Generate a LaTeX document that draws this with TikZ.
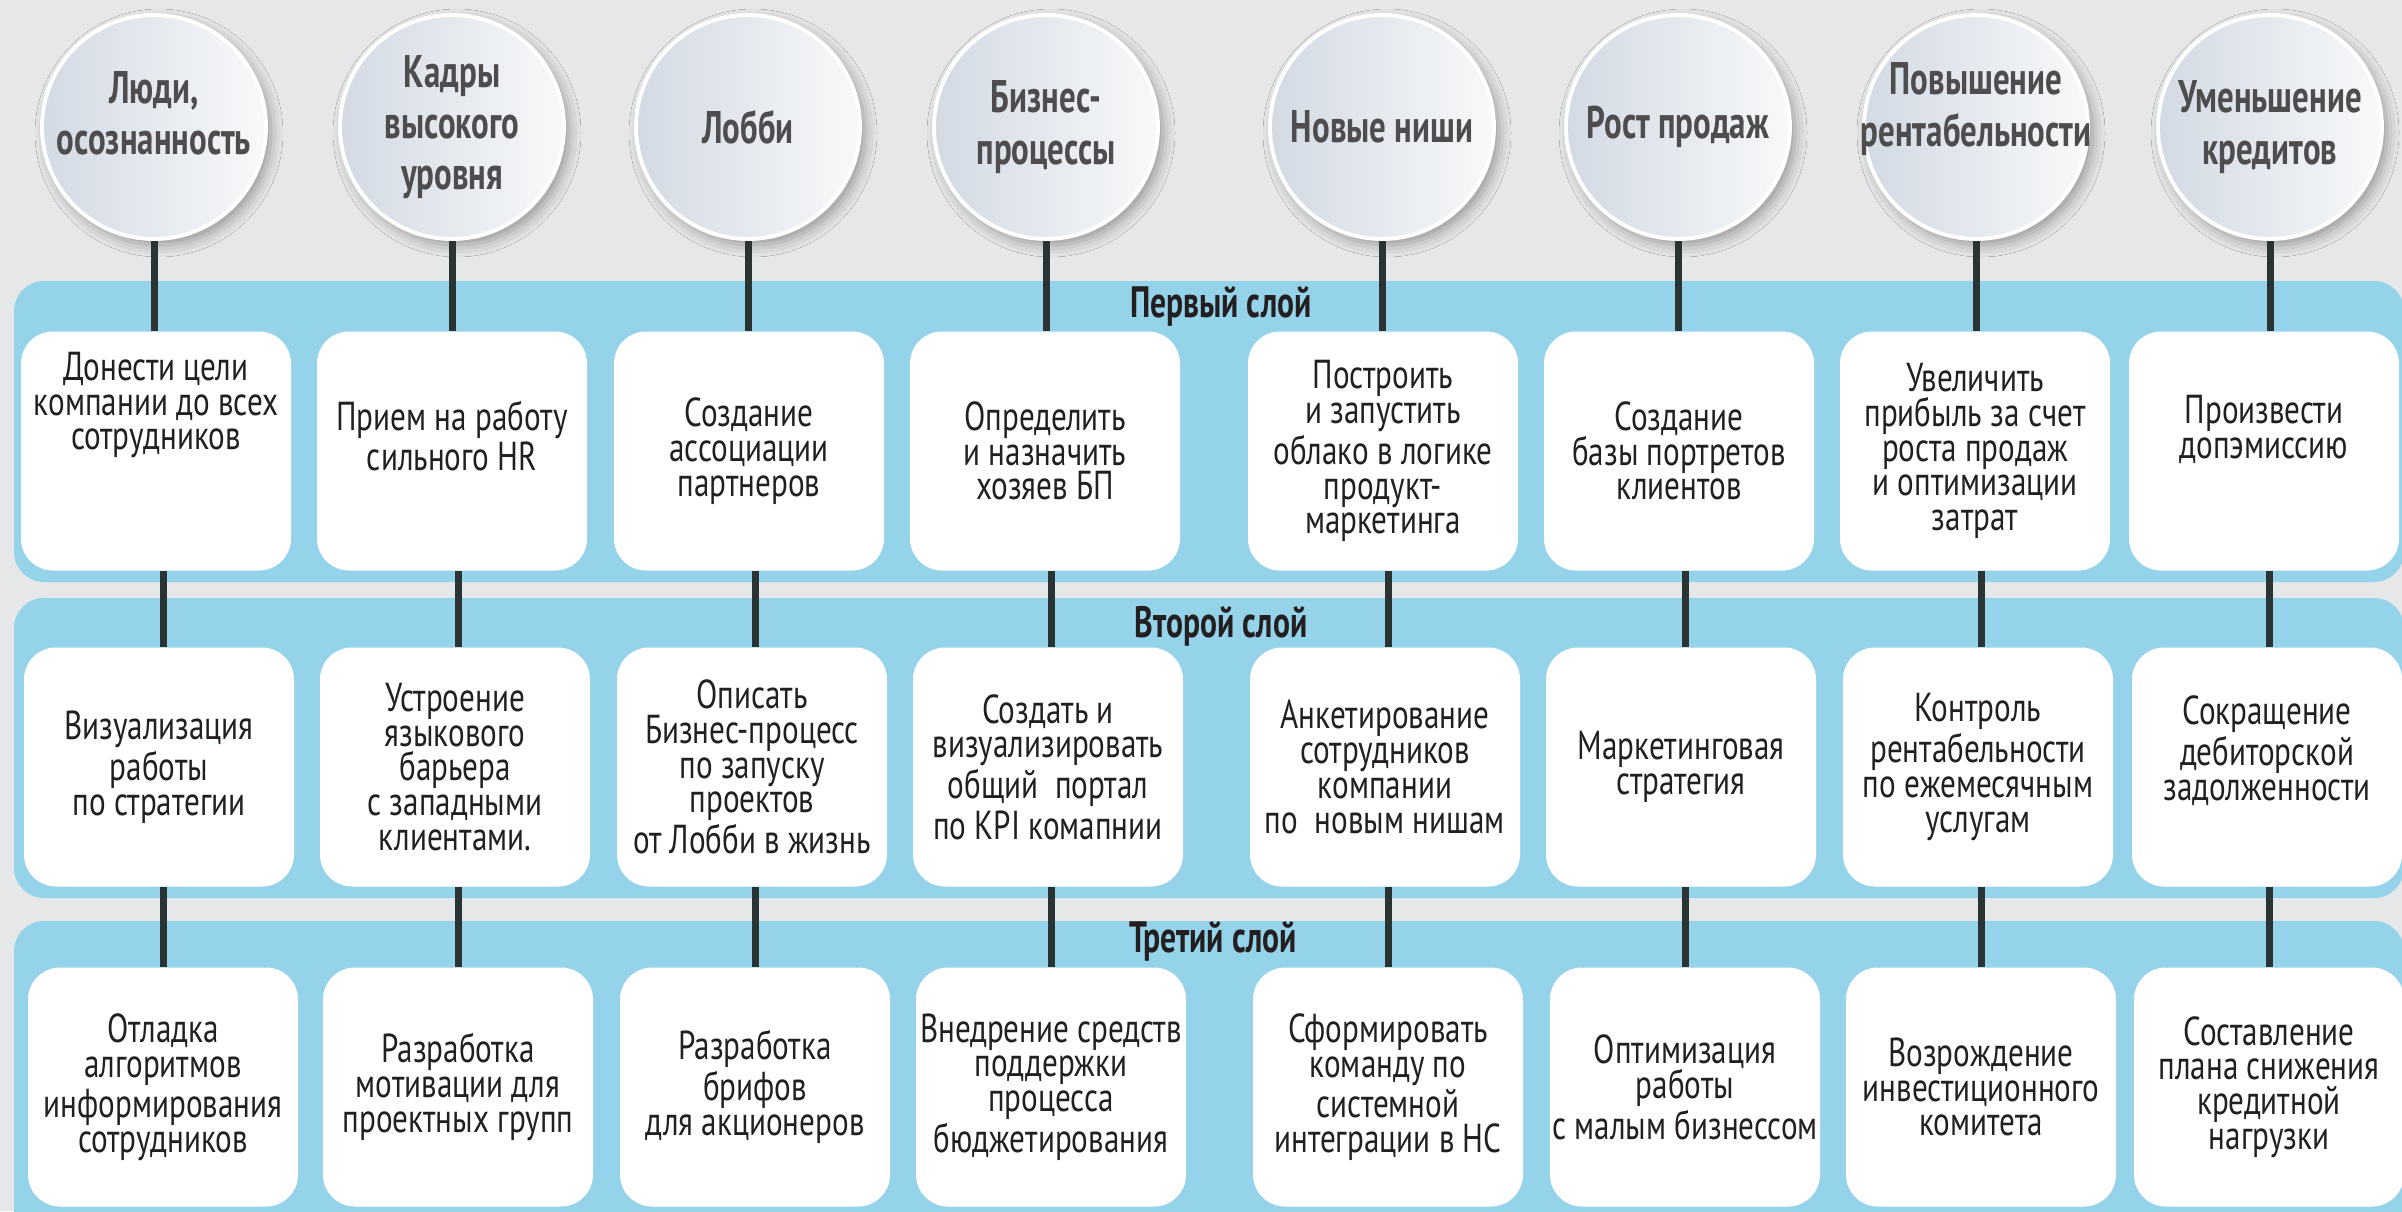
\documentclass[tikz,border=0pt]{standalone}
\usepackage{fontspec}
\setmainfont{PT Sans}[FakeStretch=0.77]
\newfontfamily\headfont{PT Sans}[FakeStretch=0.72]
\usetikzlibrary{shadows.blur}

\definecolor{bggray}{HTML}{E6E7E9}
\definecolor{bandblue}{HTML}{95D3EB}
\definecolor{wire}{HTML}{2B3434}
\definecolor{goalleft}{HTML}{D3DAE4}
\definecolor{goalright}{HTML}{F8F9FA}
\definecolor{goalink}{HTML}{4D4D4F}
\definecolor{ink}{HTML}{231F20}

\tikzset{
  goal/.style={circle, minimum size=22.4mm, inner sep=-3mm, left color=goalleft,
    right color=goalright, draw=white, line width=1.1pt, text=goalink, align=center,
    font=\headfont\bfseries\fontsize{13}{14.6}\selectfont,
    blur shadow={shadow xshift=0.5mm, shadow yshift=-0.6mm, shadow blur radius=1.2mm, shadow opacity=35}},
  task/.style={rectangle, rounded corners=3.2mm, fill=white, minimum width=27mm,
    minimum height=23.9mm, inner sep=0pt, align=center, text=ink,
    font=\fontsize{11.5}{9.9}\selectfont},
  band/.style={fill=bandblue, rounded corners=3mm},
  bandname/.style={anchor=base, text=ink, font=\headfont\bfseries\fontsize{12.5}{14}\selectfont},
  link/.style={draw=wire, line width=0.7mm}
}

\begin{document}
\begin{tikzpicture}[x=0.1mm,y=-0.1mm]
  \useasboundingbox (0,0) rectangle (2402,1211);
  \clip (0,0) rectangle (2402,1211);
  \fill[bggray] (0,0) rectangle (2402,1211);

  % layers
  \path[band] (14,281) rectangle (2404,582);
  \path[band] (14,598) rectangle (2404,898);
  \path[band] (14,921) rectangle (2404,1260);
  \node[bandname] (n1) at (1221,317) {Первый слой};
  \node[bandname] (n2) at (1221,637) {Второй слой};
  \node[bandname] (n3) at (1213,952) {Третий слой};

  % goals
  \node[goal] (g1) at (154,127) {Люди,\\осознанность\rule[-2.8mm]{0pt}{0pt}};
  \node[goal] (g2) at (452,127) {Кадры\\высокого\\уровня};
  \node[goal] (g3) at (748,127) {Лобби};
  \node[goal] (g4) at (1046,127) {Бизнес-\\процессы};
  \node[goal] (g5) at (1382,127) {Новые ниши};
  \node[goal] (g6) at (1678,127) {Рост продаж};
  \node[goal] (g7) at (1976,127) {Повышение\\рентабельности\rule[-4.5mm]{0pt}{0pt}};
  \node[goal] (g8) at (2270,127) {Уменьшение\\кредитов};

  % first layer
  \node[task] (first1) at (156,451) {Донести цели\\компании до всех\\сотрудников\rule[-10mm]{0pt}{0pt}};
  \node[task] (first2) at (452,451) {Прием на работу\\сильного HR\rule[-3mm]{0pt}{0pt}};
  \node[task] (first3) at (749,451) {Создание\\ассоциации\\партнеров};
  \node[task] (first4) at (1045,451) {Определить\\и назначить\\хозяев БП};
  \node[task] (first5) at (1383,451) {Построить\\и запустить\\облако в логике\\продукт-\\маркетинга};
  \node[task] (first6) at (1679,451) {Создание\\базы портретов\\клиентов};
  \node[task] (first7) at (1975,451) {Увеличить\\прибыль за счет\\роста продаж\\и оптимизации\\затрат};
  \node[task] (first8) at (2264,451) {Произвести\\допэмиссию\rule[-4.8mm]{0pt}{0pt}};

  % second layer
  \node[task] (second1) at (159,767) {Визуализация\\работы\\по стратегии};
  \node[task] (second2) at (455,767) {Устроение\\языкового\\барьера\\с западными\\клиентами.};
  \node[task] (second3) at (752,767) {Описать\\Бизнес-процесс\\по запуску\\проектов\\от Лобби в жизнь};
  \node[task] (second4) at (1048,767) {Создать и\\визуализировать\\общий~ портал\\по KPI комапнии};
  \node[task] (second5) at (1385,767) {Анкетирование\\сотрудников\\компании\\по~ новым нишам};
  \node[task] (second6) at (1681,767) {Маркетинговая\\стратегия};
  \node[task] (second7) at (1978,767) {Контроль\\рентабельности\\по ежемесячным\\услугам};
  \node[task] (second8) at (2267,767) {Сокращение\\дебиторской\\задолженности\rule[-3.8mm]{0pt}{0pt}};

  % third layer
  \node[task] (third1) at (163,1087) {Отладка\\алгоритмов\\информирования\\сотрудников};
  \node[task] (third2) at (458,1087) {Разработка\\мотивации для\\проектных групп};
  \node[task] (third3) at (755,1087) {Разработка\\брифов\\для акционеров};
  \node[task] (third4) at (1051,1087) {Внедрение средств\\поддержки\\процесса\\бюджетирования};
  \node[task] (third5) at (1388,1087) {Сформировать\\команду по\\системной\\интеграции в НС};
  \node[task] (third6) at (1685,1087) {Оптимизация\\работы\\с малым бизнессом};
  \node[task] (third7) at (1981,1087) {Возрождение\\инвестиционного\\комитета};
  \node[task] (third8) at (2269,1087) {Составление\\плана снижения\\кредитной\\нагрузки};

  % links
  \draw[link] (g1.south) -- (g1.south |- first1.north)
    (third1.north |- first1.south) -- (third1.north |- second1.north)
    (third1.north |- second1.south) -- (third1.north);
  \draw[link] (g2.south) -- (g2.south |- first2.north)
    (third2.north |- first2.south) -- (third2.north |- second2.north)
    (third2.north |- second2.south) -- (third2.north);
  \draw[link] (g3.south) -- (g3.south |- first3.north)
    (third3.north |- first3.south) -- (third3.north |- second3.north)
    (third3.north |- second3.south) -- (third3.north);
  \draw[link] (g4.south) -- (g4.south |- first4.north)
    (third4.north |- first4.south) -- (third4.north |- second4.north)
    (third4.north |- second4.south) -- (third4.north);
  \draw[link] (g5.south) -- (g5.south |- first5.north)
    (third5.north |- first5.south) -- (third5.north |- second5.north)
    (third5.north |- second5.south) -- (third5.north);
  \draw[link] (g6.south) -- (g6.south |- first6.north)
    (third6.north |- first6.south) -- (third6.north |- second6.north)
    (third6.north |- second6.south) -- (third6.north);
  \draw[link] (g7.south) -- (g7.south |- first7.north)
    (third7.north |- first7.south) -- (third7.north |- second7.north)
    (third7.north |- second7.south) -- (third7.north);
  \draw[link] (g8.south) -- (g8.south |- first8.north)
    (third8.north |- first8.south) -- (third8.north |- second8.north)
    (third8.north |- second8.south) -- (third8.north);
\end{tikzpicture}
\end{document}
